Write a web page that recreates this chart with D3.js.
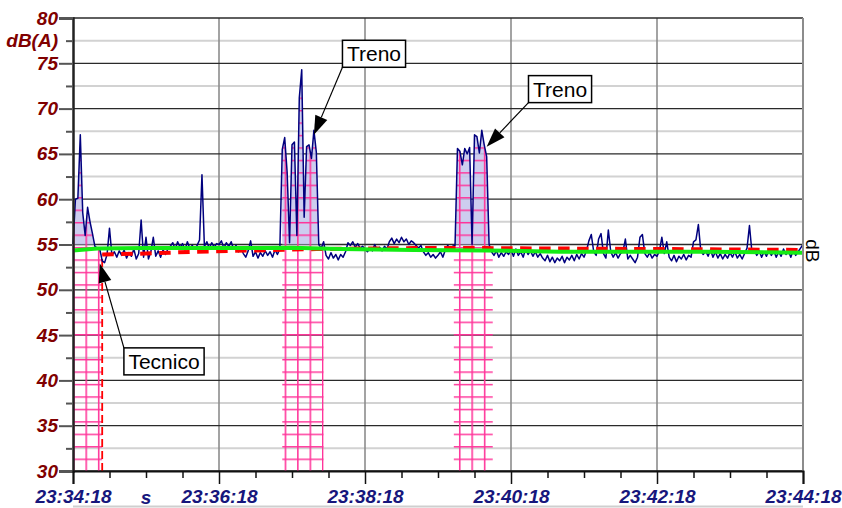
<!DOCTYPE html>
<html><head><meta charset="utf-8">
<script src="https://cdn.jsdelivr.net/npm/d3@7"></script>
<style>body{margin:0;background:#fff}svg{display:block}</style>
</head><body>
<svg id="chart" width="842" height="508"></svg>
<script>
// ---------- data ----------
const stepSeconds = 2; // sampling of the short LAeq trace
const xTickSeconds = [0, 120, 240, 360, 480, 600];
const xTickLabels = ["23:34:18", "23:36:18", "23:38:18", "23:40:18", "23:42:18", "23:44:18"];
const xUnitLabel = "s";
const xUnitSecond = 60;
const yTicks = [30, 35, 40, 45, 50, 55, 60, 65, 70, 75, 80];
const yMinorTicks = [32.5, 37.5, 42.5, 47.5, 52.5, 57.5, 62.5, 67.5, 72.5, 77.5];
const yUnitLabel = "dB(A)";
const yUnitValue = 77.5;
const rightLabel = "dB";

const laeq = [
  55.0, 60.0, 60.1, 67.1, 58.5, 56.0, 59.1, 57.5, 56.2, 54.8,
  54.6, 54.5, 53.2, 53.0, 53.9, 56.8, 53.8, 54.2, 53.6, 54.3,
  53.8, 54.4, 53.5, 54.1, 53.7, 54.5, 53.4, 54.0, 57.7, 53.6,
  55.8, 53.4, 54.2, 55.8, 53.7, 54.3, 53.6, 54.4, 53.9, 54.5,
  54.8, 55.2, 54.5, 55.3, 54.7, 55.1, 54.4, 55.3, 54.6, 54.9,
  54.5, 54.9, 55.5, 62.7, 54.8, 55.3, 54.6, 55.2, 54.7, 55.1,
  55.0, 55.4, 54.6, 55.2, 54.8, 55.3, 54.5, 54.9, 54.2, 54.6,
  54.0, 53.6, 54.3, 55.4, 53.7, 54.2, 53.5, 54.1, 53.7, 54.3,
  53.8, 54.2, 53.6, 54.4, 53.9, 54.5, 65.5, 66.8, 63.0, 55.2,
  66.0, 66.3, 56.0, 71.2, 74.3, 58.0, 65.8, 66.0, 64.5, 67.6,
  65.2, 55.0, 54.6, 55.3, 53.8, 53.4, 54.1, 53.5, 53.9, 53.3,
  53.9, 53.6, 54.2, 55.2, 54.9, 55.3, 54.7, 55.1, 54.6, 54.8,
  54.5, 54.2, 54.6, 54.3, 55.0, 54.4, 54.7, 54.3, 54.8, 54.5,
  55.3, 55.7, 55.1, 55.6, 55.2, 55.8, 55.3, 55.6, 55.0, 55.4,
  55.2, 54.9, 54.6, 54.9, 54.2, 53.8, 54.1, 53.6, 53.9, 53.5,
  53.8, 54.2, 53.6, 54.4, 54.9, 54.5, 54.8, 54.9, 65.6, 65.3,
  63.8, 65.6, 65.0, 65.7, 55.0, 67.1, 66.9, 65.1, 67.6, 66.0,
  64.7, 55.0, 54.2, 53.8, 54.3, 53.6, 54.1, 53.7, 54.2, 53.9,
  54.4, 53.7, 54.5, 53.8, 54.2, 53.6, 54.5, 53.9, 54.3, 53.7,
  54.2, 53.6, 54.0, 53.5, 53.2, 53.8, 53.1, 53.6, 53.0, 53.5,
  53.2, 53.7, 53.0, 53.6, 53.3, 53.8, 53.2, 53.9, 53.4, 54.0,
  53.6, 54.3, 55.4, 56.1, 54.2, 53.8, 55.6, 56.2, 54.0, 53.5,
  56.6, 54.2, 53.6, 54.1, 53.5, 54.0, 54.2, 55.6, 53.4, 53.8,
  53.4, 53.0, 53.6, 55.8, 56.1, 54.0, 53.6, 54.1, 53.5, 53.9,
  53.7, 54.3, 55.8, 54.0, 55.3, 53.6, 53.2, 53.8, 53.1, 53.7,
  53.4, 53.9, 53.3, 53.8, 53.6, 55.3, 55.5, 57.2, 54.3, 53.9,
  54.3, 53.7, 54.4, 53.6, 54.2, 53.5, 54.0, 53.4, 53.9, 53.5,
  54.1, 53.6, 54.2, 53.5, 53.9, 53.4, 54.0, 54.6, 57.1, 54.2,
  54.4, 53.8, 54.3, 53.6, 54.2, 53.7, 54.4, 53.8, 54.3, 53.6,
  54.2, 53.7, 54.5, 53.9, 54.3, 53.6, 54.4, 53.8, 54.2, 54.6,
  55.0
];

const greenT = [0, 20, 60, 120, 180, 220, 280, 340, 400, 460, 520, 600];
const greenV = [54.35, 54.55, 54.6, 54.6, 54.65, 54.5, 54.4, 54.35, 54.2, 54.2, 54.2, 54.1];

const redT = [24, 60, 100, 150, 200, 280, 340, 400, 480, 540, 600];
const redV = [53.9, 54.0, 54.2, 54.35, 54.5, 54.6, 54.6, 54.55, 54.5, 54.45, 54.4];

const eventStart = [0, 172, 313];
const eventEnd = [24, 206, 345];
const eventFillBase = 55;

const annLabel = ["Tecnico", "Treno", "Treno"];
const annTipT = [22, 198, 340];
const annTipV = [52.9, 67.1, 65.8];
const annBoxT = [74.8, 247.4, 400.3];
const annBoxV = [42.1, 76.05, 72.15];

// ---------- layout ----------
const svg = d3.select("#chart");
const x = d3.scaleLinear().domain([0, 600]).range([73, 803]);
const y = d3.scaleLinear().domain([30, 80]).range([471, 18]);
const [x0, x1] = x.range();
const [yb, yt] = y.range();

const defs = svg.append("defs");
const cell = 12.45;
const pat = defs.append("pattern").attr("id", "hatch")
  .attr("patternUnits", "userSpaceOnUse")
  .attr("x", x0).attr("y", yb).attr("width", cell).attr("height", cell);
pat.append("path")
  .attr("d", `M0,0.75H${cell} M0.75,0V${cell}`)
  .attr("stroke", "#ff3399").attr("stroke-width", 1.6).attr("fill", "none");

eventStart.forEach((s, i) => {
  defs.append("clipPath").attr("id", "ev" + i)
    .append("rect").attr("x", x(s)).attr("y", yt)
    .attr("width", x(eventEnd[i]) - x(s)).attr("height", yb - yt);
});

// bottom light line
svg.append("line").attr("x1", x0).attr("x2", x1).attr("y1", 506.5).attr("y2", 506.5)
  .attr("stroke", "#cfcfcf").attr("stroke-width", 2);

// grid
const grid = svg.append("g");
grid.selectAll(".minor").data(yMinorTicks).join("line")
  .attr("x1", x0).attr("x2", x1).attr("y1", d => y(d)).attr("y2", d => y(d))
  .attr("stroke", "#d2d2d2").attr("stroke-width", 2);
grid.selectAll(".vg").data(xTickSeconds.slice(1)).join("line")
  .attr("x1", d => x(d)).attr("x2", d => x(d)).attr("y1", yt).attr("y2", yb)
  .attr("stroke", "#8c8c8c").attr("stroke-width", 1.6);
grid.selectAll(".major").data(yTicks).join("line")
  .attr("x1", x0).attr("x2", x1).attr("y1", d => y(d)).attr("y2", d => y(d))
  .attr("stroke", "#2a2a2a").attr("stroke-width", 1.3);

// event regions
const tOf = (d, i) => i * stepSeconds;
const lavArea = d3.area().x((d, i) => x(tOf(d, i)))
  .y0(y(eventFillBase)).y1(d => y(Math.max(d, eventFillBase)));
const hatchArea = d3.area().x((d, i) => x(tOf(d, i))).y0(yb).y1(d => y(d));
eventStart.forEach((s, i) => {
  const g = svg.append("g").attr("clip-path", `url(#ev${i})`);
  g.append("path").datum(laeq).attr("d", lavArea).attr("fill", "#c4c4ec").attr("opacity", 0.85);
  g.append("path").datum(laeq).attr("d", hatchArea).attr("fill", "url(#hatch)");
});
// dashed closing edge of the first marked event
svg.append("line").attr("x1", x(eventEnd[0])).attr("x2", x(eventEnd[0]))
  .attr("y1", yb).attr("y2", y(redV[0]))
  .attr("stroke", "#ff0000").attr("stroke-width", 1.8).attr("stroke-dasharray", "8,4");

// series
svg.append("path").datum(laeq)
  .attr("d", d3.line().x((d, i) => x(tOf(d, i))).y(d => y(d)))
  .attr("fill", "none").attr("stroke", "#00007e").attr("stroke-width", 1.5)
  .attr("stroke-linejoin", "round");
svg.append("path").datum(redT.map((t, i) => [t, redV[i]]))
  .attr("d", d3.line().x(d => x(d[0])).y(d => y(d[1])))
  .attr("fill", "none").attr("stroke", "#ff0000").attr("stroke-width", 4)
  .attr("stroke-dasharray", "11.5,7.5");
svg.append("path").datum(greenT.map((t, i) => [t, greenV[i]]))
  .attr("d", d3.line().x(d => x(d[0])).y(d => y(d[1])))
  .attr("fill", "none").attr("stroke", "#14ec14").attr("stroke-width", 4);

// right border
svg.append("line").attr("x1", x1).attr("x2", x1).attr("y1", yt).attr("y2", yb)
  .attr("stroke", "#8c8c8c").attr("stroke-width", 2);

// axes
const yAxis = svg.append("g").attr("transform", `translate(${x0},0)`)
  .call(d3.axisLeft(y).tickValues(yTicks).tickSize(14).tickPadding(1).tickFormat(d3.format("d")));
svg.append("g").attr("transform", `translate(${x0},0)`)
  .call(d3.axisLeft(y).tickValues(yMinorTicks).tickSize(7).tickFormat(""))
  .call(g => g.select(".domain").remove());
yAxis.selectAll("text").attr("fill", "#800000")
  .style("font", "italic bold 19px 'Liberation Sans', Arial, sans-serif");
yAxis.select(".domain").attr("stroke", "#222").attr("stroke-width", 2.5);
svg.selectAll(".tick line").attr("stroke", "#555").attr("stroke-width", 2);

const xAxis = svg.append("g").attr("transform", `translate(0,${yb})`)
  .call(d3.axisBottom(x).tickValues(xTickSeconds).tickSize(13).tickPadding(6)
    .tickFormat((d, i) => xTickLabels[i]));
svg.append("g").attr("transform", `translate(0,${yb})`)
  .call(d3.axisBottom(x).tickValues(d3.range(30, 600, 30).filter(v => v % 120 !== 0))
    .tickSize(7).tickFormat(""))
  .call(g => g.select(".domain").remove())
  .selectAll(".tick line").attr("stroke", "#111").attr("stroke-width", 1.5);
xAxis.selectAll(".tick line").attr("stroke", "#111").attr("stroke-width", 1.5);
xAxis.select(".domain").attr("stroke", "#111").attr("stroke-width", 2);
xAxis.selectAll("text").attr("fill", "#16167c")
  .style("font", "italic bold 19px 'Liberation Sans', Arial, sans-serif");

svg.append("text").attr("x", x(xUnitSecond)).attr("y", 503.5).attr("text-anchor", "middle")
  .attr("fill", "#16167c").style("font", "italic bold 19px 'Liberation Sans', Arial, sans-serif")
  .text(xUnitLabel);
svg.append("text").attr("x", x0 - 15).attr("y", y(yUnitValue)).attr("dy", "0.32em")
  .attr("text-anchor", "end").attr("fill", "#800000")
  .style("font", "italic bold 19px 'Liberation Sans', Arial, sans-serif")
  .text(yUnitLabel);
svg.append("text").attr("transform", `translate(${x1 + 3},${y(54.3)}) rotate(90)`)
  .attr("text-anchor", "middle").attr("dy", "0")
  .style("font", "19px 'Liberation Sans', Arial, sans-serif").attr("fill", "#000")
  .text(rightLabel);

// annotations
annLabel.forEach((lab, i) => {
  const g = svg.append("g");
  const cx = x(annBoxT[i]), cy = y(annBoxV[i]);
  const t = g.append("text").attr("x", cx).attr("y", cy).attr("dy", "0.36em")
    .attr("text-anchor", "middle")
    .style("font", "21px 'Liberation Sans', Arial, sans-serif").text(lab);
  const bb = t.node().getBBox();
  const w = bb.width + 9, h = 27;
  const bx = cx - w / 2, by = cy - h / 2;
  const tx = x(annTipT[i]), ty = y(annTipV[i]);
  const sx = bx, sy = ty > cy ? by + h : by;
  const ang = Math.atan2(ty - sy, tx - sx);
  const L = 19, hw = 6.5;
  const bxm = tx - L * Math.cos(ang), bym = ty - L * Math.sin(ang);
  g.insert("line", "text").attr("x1", sx).attr("y1", sy).attr("x2", bxm).attr("y2", bym)
    .attr("stroke", "#000").attr("stroke-width", 1.2);
  g.insert("path", "text").attr("d", `M${tx},${ty}L${bxm + hw * Math.sin(ang)},${bym - hw * Math.cos(ang)}L${bxm - hw * Math.sin(ang)},${bym + hw * Math.cos(ang)}Z`)
    .attr("fill", "#000");
  g.insert("rect", "text").attr("x", bx).attr("y", by).attr("width", w).attr("height", h)
    .attr("fill", "#fff").attr("stroke", "#000").attr("stroke-width", 1.5);
});
</script>
</body></html>
